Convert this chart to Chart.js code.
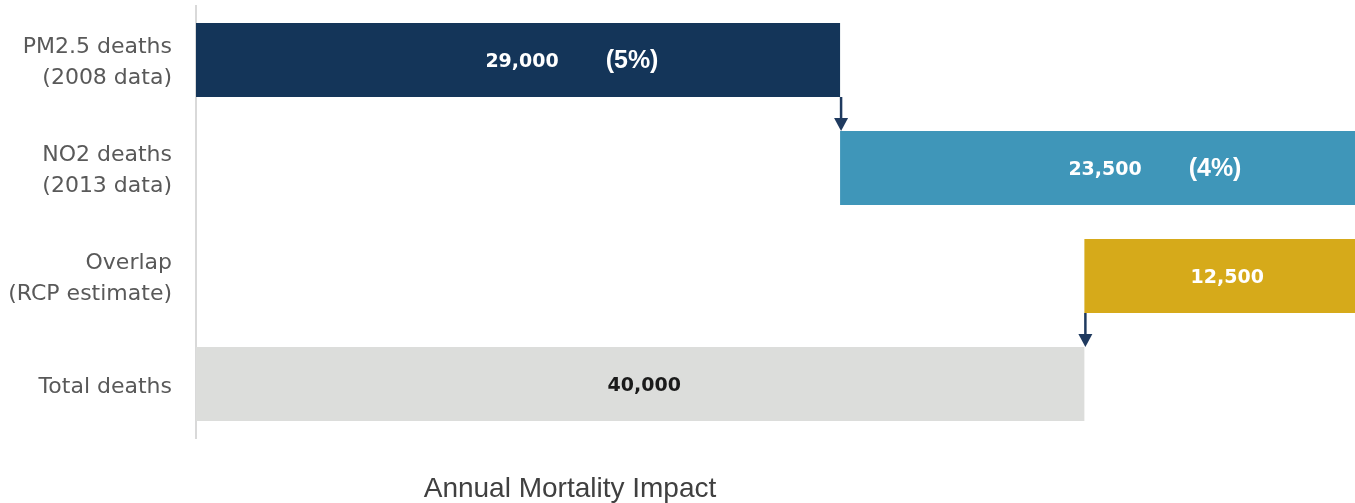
<!DOCTYPE html>
<html>
<head>
<meta charset="utf-8">
<script src="https://cdn.jsdelivr.net/npm/chart.js@4"></script>
<style>
    html, body { margin: 0; padding: 0; background: #fff; overflow: hidden; }
    #wrap { width: 1362px; height: 503px; }
</style>
</head>
<body>
<div id="wrap"><canvas id="chart"></canvas></div>
<script>
let categories = [['PM2.5 deaths', '(2008 data)'], ['NO2 deaths', '(2013 data)'], ['Overlap', '(RCP estimate)'], 'Total deaths']
let barStart = [0, 29000, 40000, 0]
let barEnd = [29000, 52500, 52500, 40000]
let valueLabels = ['29,000', '23,500', '12,500', '40,000']
let shareLabels = ['(5%)', '(4%)', '', '']
let barColors = ['#143559', '#3f96b9', '#d6aa1a', '#dcdddb']
let labelColors = ['#ffffff', '#ffffff', '#ffffff', '#1a1a1a']
let axisTitle = 'Annual Mortality Impact'

// arrows: from end of one bar down to the next one
let arrows = [
    { from: 0, to: 1, value: 29000 },
    { from: 2, to: 3, value: 40000 }
]

const barLabels = {
    id: 'barLabels',
    afterDatasetsDraw(chart) {
        let ctx = chart.ctx
        let meta = chart.getDatasetMeta(0)
        let xs = chart.scales.x
        ctx.save()
        ctx.textBaseline = 'middle'
        ctx.textAlign = 'center'
        meta.data.forEach((bar, i) => {
            let cx = (bar.x + bar.base) / 2 + 4
            ctx.fillStyle = labelColors[i]
            ctx.font = 'bold 19px "DejaVu Sans"'
            ctx.fillText(valueLabels[i], cx, bar.y + 2)
            if (shareLabels[i]) {
                ctx.fillStyle = '#ffffff'
                ctx.font = 'bold 25px "Liberation Sans"'
                ctx.fillText(shareLabels[i], cx + 110, bar.y + 1)
            }
        })

        // arrows
        ctx.strokeStyle = '#1f3a5f'
        ctx.fillStyle = '#1f3a5f'
        ctx.lineWidth = 2.5
        arrows.forEach(a => {
            let b1 = meta.data[a.from]
            let b2 = meta.data[a.to]
            let x = xs.getPixelForValue(a.value) + 1
            let y1 = b1.y + b1.height / 2
            let y2 = b2.y - b2.height / 2
            ctx.beginPath()
            ctx.moveTo(x, y1)
            ctx.lineTo(x, y2 - 10)
            ctx.stroke()
            ctx.beginPath()
            ctx.moveTo(x - 7, y2 - 13)
            ctx.lineTo(x + 7, y2 - 13)
            ctx.lineTo(x, y2)
            ctx.closePath()
            ctx.fill()
        })

        // axis title
        ctx.fillStyle = '#404040'
        ctx.font = '28px Arial'
        ctx.textAlign = 'center'
        ctx.fillText(axisTitle, 570, 489)
        ctx.restore()
    }
}

new Chart(document.getElementById('chart').getContext('2d'), {
    type: 'bar',
    data: {
        labels: categories,
        datasets: [{
            data: barStart.map((s, i) => [s, barEnd[i]]),
            backgroundColor: barColors,
            borderWidth: 0,
            barPercentage: 0.685,
            categoryPercentage: 1
        }]
    },
    options: {
        indexAxis: 'y',
        responsive: true,
        maintainAspectRatio: false,
        animation: false,
        layout: {
            padding: { top: 6, bottom: 65, left: 0, right: 0 }
        },
        scales: {
            x: {
                display: false,
                min: 0,
                max: 52500
            },
            y: {
                grid: { display: false, drawTicks: false },
                border: { display: true, color: '#d9d9d9', width: 2 },
                ticks: {
                    color: '#595959',
                    font: { family: 'DejaVu Sans', size: 22, lineHeight: 1.4 },
                    padding: 24,
                    labelOffset: 3
                },
                afterFit(scale) {
                    scale.width = 196
                    scale.paddingTop = 0
                    scale.paddingBottom = 0
                }
            }
        },
        plugins: {
            legend: { display: false },
            tooltip: { enabled: false }
        }
    },
    plugins: [barLabels]
})
</script>
</body>
</html>
